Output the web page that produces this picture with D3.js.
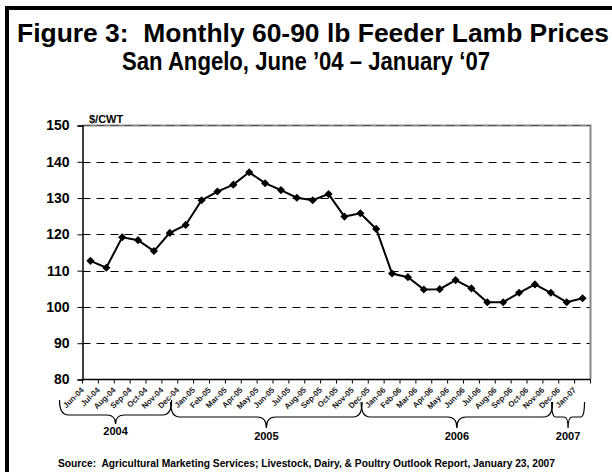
<!DOCTYPE html>
<html><head><meta charset="utf-8">
<script src="https://cdn.jsdelivr.net/npm/d3@7"></script>
<style>
html,body{margin:0;padding:0;background:#fff;}
svg{display:block;font-family:"Liberation Sans",Arial,sans-serif;}
text{white-space:pre;}
</style></head>
<body>
<svg id="chart" width="612" height="472"></svg>
<script>
const months = ["Jun-04","Jul-04","Aug-04","Sep-04","Oct-04","Nov-04","Dec-04",
  "Jan-05","Feb-05","Mar-05","Apr-05","May-05","Jun-05","Jul-05","Aug-05","Sep-05","Oct-05","Nov-05","Dec-05",
  "Jan-06","Feb-06","Mar-06","Apr-06","May-06","Jun-06","Jul-06","Aug-06","Sep-06","Oct-06","Nov-06","Dec-06",
  "Jan-07"];
const prices = [112.7,110.8,119.2,118.4,115.4,120.4,122.6,
  129.4,131.8,133.7,137.1,134.1,132.2,130.1,129.4,131.1,124.9,125.8,121.5,
  109.2,108.2,104.8,104.9,107.4,105.1,101.3,101.3,103.9,106.2,103.9,101.3,
  102.4];
const yTicks = [80,90,100,110,120,130,140,150];
const yearLabels = ["2004","2005","2006","2007"];
const yearFirst = [0,7,19,31];
const yearLast = [6,18,30,31];
const titleLines = ["Figure 3:  Monthly 60-90 lb Feeder Lamb Prices","San Angelo, June \u201904 \u2013 January \u201807"];
const unitLabel = "$/CWT";
const sourceText = "Source:  Agricultural Marketing Services; Livestock, Dairy, & Poultry Outlook Report, January 23, 2007";

const svg = d3.select("#chart");
const L = 82.5, R = 590.5, T = 125.5, B = 379.5;

// outer frame (left and top)
svg.append("line").attr("x1",7).attr("x2",7).attr("y1",6).attr("y2",472).attr("stroke","#000").attr("stroke-width",4);
svg.append("line").attr("x1",5).attr("x2",612).attr("y1",8).attr("y2",8).attr("stroke","#000").attr("stroke-width",4);

// title
svg.append("text").attr("x",17).attr("y",42)
  .attr("font-size",25).attr("font-weight","bold")
  .attr("textLength",592).attr("lengthAdjust","spacingAndGlyphs").text(titleLines[0]);
svg.append("text").attr("x",122).attr("y",70)
  .attr("font-size",25).attr("font-weight","bold")
  .attr("textLength",368).attr("lengthAdjust","spacingAndGlyphs").text(titleLines[1]);

const x = d3.scaleBand().domain(months).range([L,R]).padding(0);
const y = d3.scaleLinear().domain([80,150]).range([B,T]);
const bw = x.bandwidth();

// gridlines
svg.append("g").selectAll("line").data(yTicks.filter(v=>v>80 && v<150)).join("line")
  .attr("x1",L).attr("x2",R).attr("y1",d=>Math.round(y(d))+0.5).attr("y2",d=>Math.round(y(d))+0.5)
  .attr("stroke","#000").attr("stroke-width",1).attr("stroke-dasharray","8,6");

// plot frame top & right (gray)
svg.append("path").attr("d",`M${L},${T}H${R}V${B}`).attr("fill","none").attr("stroke","#888").attr("stroke-width",2);
svg.append("line").attr("x1",L).attr("x2",R).attr("y1",T).attr("y2",T)
  .attr("stroke","#555").attr("stroke-width",1).attr("stroke-dasharray","8,6");

// y axis
const yAxis = d3.axisLeft(y).tickValues(yTicks).tickSize(5).tickPadding(8).tickFormat(d3.format("d"));
const gy = svg.append("g").attr("transform",`translate(${L},0)`).call(yAxis);
gy.select(".domain").attr("stroke","#000").attr("stroke-width",1.5);
gy.selectAll(".tick line").attr("stroke","#000");
gy.selectAll(".tick text").attr("font-size",14).attr("font-weight","bold").attr("fill","#000")
  .attr("font-family","Liberation Sans, Arial, sans-serif");

// x axis line
svg.append("line").attr("x1",L).attr("x2",R).attr("y1",B).attr("y2",B).attr("stroke","#000").attr("stroke-width",1.5);
// x ticks at category boundaries
const bounds = months.map(m=>x(m)).concat([x(months[months.length-1])+bw]);
svg.append("g").selectAll("line").data(bounds).join("line")
  .attr("x1",d=>d).attr("x2",d=>d).attr("y1",B).attr("y2",B+4).attr("stroke","#000");

// x labels
svg.append("g").selectAll("text").data(months).join("text")
  .attr("transform",d=>`translate(${x(d)+bw/2-6},${B+11}) rotate(-45)`)
  .attr("text-anchor","end").attr("font-size",8).attr("font-weight","bold").attr("fill","#222")
  .text(d=>d);

// unit label
svg.append("text").attr("x",89).attr("y",123).attr("font-size",11).attr("font-weight","bold").text(unitLabel);

// line
const line = d3.line().x((d,i)=>x(months[i])+bw/2).y(d=>y(d));
svg.append("path").datum(prices).attr("d",line).attr("fill","none").attr("stroke","#000").attr("stroke-width",2);
svg.append("g").selectAll("path").data(prices).join("path")
  .attr("d",d3.symbol().type(d3.symbolDiamond2).size(42))
  .attr("transform",(d,i)=>`translate(${x(months[i])+bw/2},${y(d)})`)
  .attr("fill","#000");

// year braces
function bracePath(x1,x2,yTop,yMid,yTip,r){
  const xm=(x1+x2)/2;
  return `M${x1},${yTop}Q${x1},${yMid} ${x1+r},${yMid}L${xm-r},${yMid}Q${xm},${yMid} ${xm},${yTip}`+
         `Q${xm},${yMid} ${xm+r},${yMid}L${x2-r},${yMid}Q${x2},${yMid} ${x2},${yTop}`;
}
const gb = svg.append("g");
yearLabels.forEach((lab,i)=>{
  const x1 = x(months[yearFirst[i]]) - 23;
  const last = i===3 ? x(months[yearLast[i]]) + bw - 6 : x(months[yearLast[i]]) + bw - 22;
  const first = i===0;
  const yTop = first?400:402, yMid = first?415:417, yTip = first?424:428;
  gb.append("path").attr("d",bracePath(x1,last,yTop,yMid,yTip,i===3?4:9))
    .attr("fill","none").attr("stroke","#000").attr("stroke-width",1.2);
  gb.append("text").attr("x",(x1+last)/2).attr("y",first?435:440).attr("text-anchor","middle")
    .attr("font-size",11).attr("font-weight","bold").text(lab);
});

// source
svg.append("text").attr("x",58).attr("y",467)
  .attr("font-size",10).attr("font-weight","bold")
  .attr("textLength",497).attr("lengthAdjust","spacingAndGlyphs").text(sourceText);
</script>
</body></html>
